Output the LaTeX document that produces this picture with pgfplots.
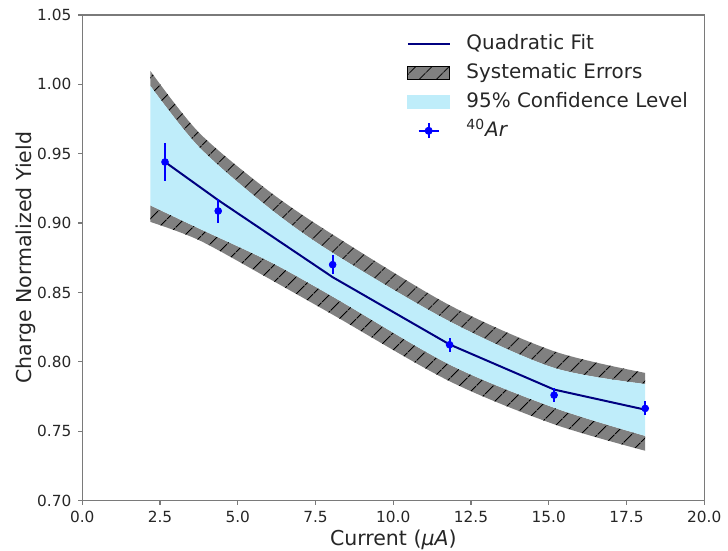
\documentclass[border=0pt]{standalone}
\usepackage{pgfplots}
\usepackage{pgfplotstable}
\pgfplotsset{compat=1.18}
\usepgfplotslibrary{fillbetween}
\usetikzlibrary{patterns.meta}
\usepackage{fontspec}
\setmainfont{DejaVu Sans}
\definecolor{navyc}{HTML}{000080}
\definecolor{bandblue}{HTML}{BFEDFA}
\definecolor{sysgray}{HTML}{808080}
\definecolor{spine}{HTML}{7A7A7A}

\pgfplotstableread{
x      gt      bt      bb      gb
2.19   1.0096  0.9988  0.9127  0.9008
3.76   0.9650  0.9546  0.8960  0.8876
6.00   0.9230  0.9110  0.8725  0.8600
8.05   0.8917  0.8785  0.8470  0.8340
11.81  0.8408  0.8291  0.7980  0.7860
15.17  0.8076  0.7956  0.7669  0.7550
18.10  0.7920  0.7840  0.7466  0.7359
}\bands

\pgfplotstableread{
x      y
2.66   0.9440
4.37   0.9165
8.05   0.8610
11.81  0.8125
15.17  0.7800
18.10  0.7655
}\fit

\pgfplotstableread{
x      y       e
2.66   0.9440  0.0138
4.37   0.9087  0.0086
8.05   0.8700  0.0067
11.81  0.8123  0.0050
15.17  0.7760  0.0048
18.10  0.7664  0.0050
}\ar

\begin{document}
\begin{tikzpicture}
\begin{axis}[
  scale only axis, width=312.5pt, height=244pt,
  xmin=0, xmax=20, ymin=0.70, ymax=1.05,
  xtick={0,2.5,5,7.5,10,12.5,15,17.5,20},
  ytick={0.70,0.75,0.80,0.85,0.90,0.95,1.00,1.05},
  /pgf/number format/assume math mode=true,
  xticklabel style={/pgf/number format/.cd, fixed, fixed zerofill, precision=1},
  yticklabel style={/pgf/number format/.cd, fixed, fixed zerofill, precision=2},
  tick label style={font=\fontsize{7.7}{9}\selectfont, text=black!85},
  label style={font=\fontsize{10.3}{12}\selectfont, text=black!85, inner sep=0pt},
  xlabel={Current (\textit{μA})},
  ylabel={Charge Normalized Yield},
  xlabel style={at={(axis description cs:0.5,-0.059)}, anchor=north},
  ylabel style={at={(axis description cs:-0.108,0.5)}, anchor=north, rotate=0},
  axis line style={spine, line width=0.6pt},
  tick style={spine, line width=0.6pt},
  tick align=outside, major tick length=2pt, tick pos=left,
  legend style={draw=none, fill=none, at={(0.521,0.96)}, anchor=north west,
    font=\fontsize{10}{12}\selectfont, inner sep=0pt, row sep=5pt,
    nodes={text height=7.5pt, text depth=2pt, inner sep=0pt, text=black!85},
    /tikz/every odd column/.append style={column sep=8pt}},
  legend cell align=left,
]
\addlegendimage{legend image code/.code={\draw[navyc, line width=1pt] (0pt,0pt)--(21pt,0pt);}}
\addlegendimage{legend image code/.code={
  \fill[sysgray] (0pt,-3.3pt) rectangle (21pt,3.3pt);
  \fill[pattern={Lines[angle=45,distance=6.5pt,line width=0.55pt]}, pattern color=black] (0pt,-3.3pt) rectangle (21pt,3.3pt);}}
\addlegendimage{legend image code/.code={\fill[bandblue] (0pt,-3.3pt) rectangle (21pt,3.3pt);}}
\addlegendimage{legend image code/.code={
  \draw[blue, line width=1pt] (5.5pt,0pt)--(15.5pt,0pt);
  \draw[blue, line width=1pt] (10.5pt,-3.75pt)--(10.5pt,3.75pt);
  \fill[blue] (10.5pt,0pt) circle (1.8pt);}}
\legend{Quadratic Fit, Systematic Errors, 95\% Confidence Level, \textsuperscript{40}\textit{Ar}}

\addplot[name path=gt, draw=none, smooth, forget plot] table[x=x, y=gt] {\bands};
\addplot[name path=bt, draw=none, smooth, forget plot] table[x=x, y=bt] {\bands};
\addplot[name path=bb, draw=none, smooth, forget plot] table[x=x, y=bb] {\bands};
\addplot[name path=gb, draw=none, smooth, forget plot] table[x=x, y=gb] {\bands};

\addplot[fill=sysgray, draw=none, forget plot] fill between[of=gt and bt];
\addplot[pattern={Lines[angle=45,distance=6.5pt,line width=0.55pt]}, pattern color=black, draw=none, forget plot] fill between[of=gt and bt];
\addplot[fill=sysgray, draw=none, forget plot] fill between[of=bb and gb];
\addplot[pattern={Lines[angle=45,distance=6.5pt,line width=0.55pt]}, pattern color=black, draw=none, forget plot] fill between[of=bb and gb];
\addplot[fill=bandblue, draw=none, forget plot] fill between[of=bt and bb];

\addplot[navyc, line width=1pt, forget plot] table[x=x, y=y] {\fit};

\addplot[blue, only marks, mark=*, mark size=1.7pt, forget plot,
  error bars/.cd, y dir=both, y explicit, error mark=none,
  error bar style={blue, line width=1pt}]
  table[x=x, y=y, y error=e] {\ar};
\end{axis}
\path ([xshift=-41.35pt,yshift=7.5pt]current axis.north west) rectangle ([xshift=10pt,yshift=-24.85pt]current axis.south east);
\end{tikzpicture}
\end{document}
